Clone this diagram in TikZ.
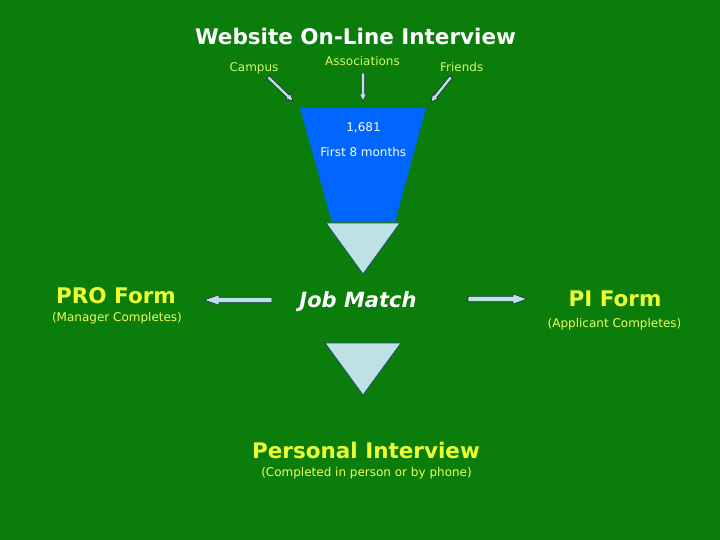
\documentclass[tikz,border=0pt]{standalone}
\usepackage{fontspec}
\setmainfont{DejaVu Sans}
\usetikzlibrary{calc}
\definecolor{bggreen}{RGB}{10,125,10}
\definecolor{funnelblue}{RGB}{0,102,255}
\definecolor{paleblue}{RGB}{190,225,230}
\definecolor{edgeblue}{RGB}{30,80,110}
\definecolor{hiyellow}{RGB}{235,255,50}
\definecolor{subyellow}{RGB}{240,255,90}
\definecolor{srcgreen}{RGB}{210,250,100}
\definecolor{arrowdark}{RGB}{25,55,55}
\newcommand\blockarr[5]{%
  \coordinate (bah) at ($(#2)!#5!(#1)$);
  \filldraw[blockarrow] ($(#1)!#3!90:(#2)$) -- ($(bah)!#3!-90:(#1)$) -- ($(bah)!#4!-90:(#1)$) -- (#2) -- ($(bah)!#4!90:(#1)$) -- ($(bah)!#3!90:(#1)$) -- ($(#1)!#3!-90:(#2)$) -- cycle;}
\tikzset{
  blockarrow/.style={fill=paleblue, draw=arrowdark, line width=0.7pt, line join=miter},
  bigtitle/.style={anchor=base, inner sep=0pt, font=\fontsize{21.5}{24}\selectfont\bfseries},
  sublabel/.style={anchor=base, inner sep=0pt, text=subyellow, font=\fontsize{12}{14}\selectfont},
  srclabel/.style={anchor=base, inner sep=0pt, text=srcgreen, font=\fontsize{12}{14}\selectfont},
  funneltext/.style={anchor=base, inner sep=0pt, text=white, font=\fontsize{12}{14}\selectfont},
  tri/.style={fill=paleblue, draw=edgeblue, line width=0.8pt, line join=miter}
}
\begin{document}
\begin{tikzpicture}[x=1pt,y=-1pt]
\fill[bggreen] (0,0) rectangle (720,540);
\useasboundingbox (0,0) rectangle (720,540);
% title
\node[bigtitle, text=white] (title) at (355.5,44.3) {Website On-Line Interview};
% sources
\node[srclabel] (campus) at (254,72) {Campus};
\node[srclabel] (assoc) at (362.5,65.7) {Associations};
\node[srclabel] (friends) at (461.7,71.7) {Friends};
% funnel
\fill[funnelblue] (300,108) -- (426,108) -- (395,222) -- (332,222) -- cycle;
\coordinate (funnel) at (363,108);
\node[funneltext] (count) at (363.5,131.7) {1,681};
\node[funneltext] (months) at (363.3,156.7) {First 8 months};
% triangles
\filldraw[tri] (326,223) -- (400,223) -- (363,274) -- cycle;
\filldraw[tri] (325,343) -- (401,343) -- (363,395) -- cycle;
% source arrows
\coordinate (cT) at (268,77); \coordinate (cH) at (293,101);
\coordinate (aT) at (363,73); \coordinate (aH) at (363,101);
\coordinate (fT) at (451,77); \coordinate (fH) at (431,102);
\blockarr{cT}{cH}{1.7pt}{3.6pt}{7pt}
\blockarr{aT}{aH}{1.7pt}{3.6pt}{7pt}
\blockarr{fT}{fH}{1.7pt}{3.6pt}{7pt}
% middle row
\node[anchor=base, inner sep=0pt, text=white, font=\fontsize{21}{24}\selectfont\bfseries\itshape] (job) at (358,307.5) {Job Match};
\node[bigtitle, text=hiyellow] (pro) at (116,303.3) {PRO Form};
\node[sublabel] (proSub) at (117,321) {(Manager Completes)};
\node[bigtitle, text=hiyellow] (pi) at (615,306.7) {PI Form};
\node[sublabel] (piSub) at (614.5,327) {(Applicant Completes)};
\coordinate (lT) at (272,300); \coordinate (lH) at (204,300);
\coordinate (rT) at (468,299); \coordinate (rH) at (527,299);
\blockarr{lT}{lH}{2.7pt}{5.2pt}{15pt}
\blockarr{rT}{rH}{2.7pt}{5.2pt}{14pt}
% bottom
\node[bigtitle, text=hiyellow] (pint) at (366,458.3) {Personal Interview};
\node[sublabel] (pintSub) at (366.5,476.7) {(Completed in person or by phone)};
\end{tikzpicture}
\end{document}
